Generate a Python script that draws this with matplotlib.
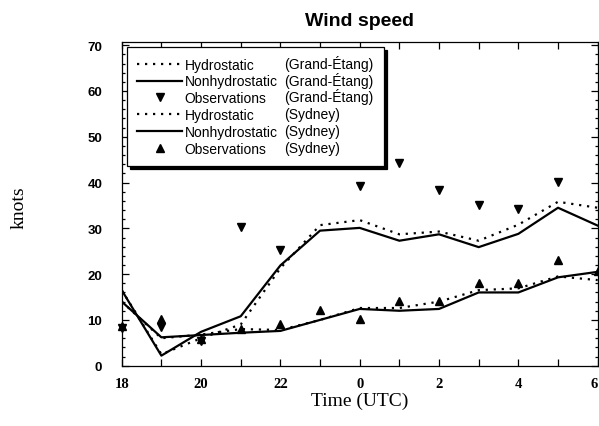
import numpy as np
import matplotlib
matplotlib.use('Agg')
import matplotlib.pyplot as plt
from matplotlib.lines import Line2D

#%% Data (hours 18 UTC -> 06 UTC, 30 = 6 next day)
hours = np.arange(18, 31)
tick_labels = ['18', '', '20', '', '22', '', '0', '', '2', '', '4', '', '6']

ge_hydro = [16.5, 2.5, 6.0, 9.0, 21.3, 30.7, 31.8, 28.7, 29.3, 27.3, 30.8, 35.8, 34.5]
ge_nonhydro = [16.5, 2.2, 7.4, 10.8, 21.9, 29.5, 30.1, 27.3, 28.7, 25.9, 28.8, 34.5, 30.6]
ge_obs = [8.2, 8.5, 5.3, 30.3, 25.3, np.nan, 39.3, 44.2, 38.3, 35.2, 34.2, 40.2, np.nan]

syd_hydro = [14.0, 6.0, 6.8, 8.0, 7.8, 10.0, 12.6, 12.6, 14.0, 16.5, 16.9, 19.5, 18.7]
syd_nonhydro = [14.0, 6.2, 6.7, 7.2, 7.6, 10.0, 12.4, 12.0, 12.4, 16.0, 16.0, 19.3, 20.5]
syd_obs = [8.6, 10.1, 5.9, 8.1, 9.1, 12.1, 10.2, 14.1, 14.1, 18.1, 18.1, 23.0, 20.7]

col1 = ['Hydrostatic', 'Nonhydrostatic', 'Observations',
        'Hydrostatic', 'Nonhydrostatic', 'Observations']
col2 = ['(Grand-Étang)', '(Grand-Étang)', '(Grand-Étang)',
        '(Sydney)', '(Sydney)', '(Sydney)']

sans = 'Liberation Sans'
serif = 'Liberation Serif'

#%% Plot
fig = plt.figure(figsize=(5.99, 4.27), dpi=100)
ax = fig.add_axes([0.2032, 0.1412, 0.7946, 0.7581])

dot = (0, (1, 2.6))
l1, = ax.plot(hours, ge_hydro, color='black', lw=1.6, linestyle=dot)
l2, = ax.plot(hours, ge_nonhydro, color='black', lw=1.6)
l3, = ax.plot(hours, ge_obs, 'v', color='black', ms=5.5, clip_on=False)
l4, = ax.plot(hours, syd_hydro, color='black', lw=1.6, linestyle=dot)
l5, = ax.plot(hours, syd_nonhydro, color='black', lw=1.6)
l6, = ax.plot(hours, syd_obs, '^', color='black', ms=5.5, clip_on=False)

ax.set_xlim(18, 30)
ax.set_ylim(0, 70.7)
ax.set_xticks(hours)
ax.set_xticklabels(tick_labels, fontfamily=serif, fontweight='bold', fontsize=10.5)
ax.get_xticklabels()[-1].set_ha('right')
ax.set_yticks(range(0, 71, 10))
ax.set_yticks(range(0, 71, 2), minor=True)
ax.set_yticklabels([str(v) for v in range(0, 71, 10)], fontfamily=sans,
                   fontweight='bold', fontsize=9.5)
ax.tick_params(axis='both', which='both', direction='in', top=True, right=True,
               width=0.9)
ax.tick_params(axis='x', which='major', length=5, pad=8)
ax.tick_params(axis='y', which='major', length=5, pad=14)
ax.tick_params(axis='y', which='minor', length=2.5)
for s in ax.spines.values():
    s.set_linewidth(0.9)

ax.set_title('Wind speed', fontfamily=sans, fontweight='bold', fontsize=14, pad=12)
ax.set_ylabel('knots', fontfamily=serif, fontsize=14)
ax.yaxis.set_label_coords(-0.197, 0.49)
ax.set_xlabel('Time (UTC)', fontfamily=serif, fontsize=14)
ax.xaxis.set_label_coords(0.5, -0.08)

# legend: second column only reserves room, its text is drawn on the rows of column 1
blank = Line2D([], [], linestyle='none')
handles = [l1, l2, l3, l4, l5, l6] + [blank] * 6
labels = col1 + [s.replace('É', 'E') for s in col2]
leg = ax.legend(handles, labels, loc='upper left', ncol=2,
                prop={'family': sans, 'size': 10},
                handlelength=3.2, handletextpad=0.2, columnspacing=-2.9,
                labelspacing=0.2, borderpad=0.75, borderaxespad=0.38,
                fancybox=False, framealpha=1, edgecolor='black',
                shadow={'color': 'black', 'alpha': 1})
leg.get_frame().set_linewidth(0.9)

fig.canvas.draw()
texts = leg.get_texts()
W, H = fig.canvas.get_width_height()
for i in range(6):
    t1 = texts[i]
    t2 = texts[6 + i]
    xb, yb = t1.get_transform().transform(t1.get_position())
    x2 = t2.get_window_extent().x0
    t2.set_visible(False)
    fig.text(x2 / W, yb / H, col2[i], family=sans, size=10,
             ha='left', va='baseline', zorder=10)

plt.savefig('out.png', dpi=100)
